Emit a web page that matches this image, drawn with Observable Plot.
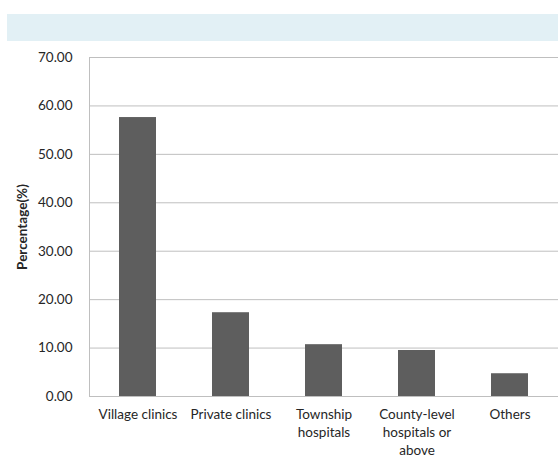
<!DOCTYPE html>
<html>
<head>
<meta charset="utf-8">
<script src="https://cdn.jsdelivr.net/npm/d3@7"></script>
<script src="https://cdn.jsdelivr.net/npm/@observablehq/plot@0.6"></script>
<style>
  body { margin: 0; background: #fff; }
  #wrap { position: relative; width: 558px; height: 468px; }
  #band { position: absolute; left: 7px; top: 14px; width: 551px; height: 27px; background: #e2f0f5; }
  #chart { position: absolute; left: 0; top: 0; }
  #chart svg g[aria-label="y-axis label"] text { font-weight: bold; }
</style>
</head>
<body>
<div id="wrap">
  <div id="band"></div>
  <div id="chart"></div>
</div>
<script>
const categories = ["Village clinics", "Private clinics", "Township\nhospitals", "County-level\nhospitals or\nabove", "Others"];
const percentages = [57.6, 17.3, 10.7, 9.5, 4.7];
const yTicks = [0, 10, 20, 30, 40, 50, 60, 70];

const data = categories.map((c, i) => ({category: c, value: percentages[i]}));

const chart = Plot.plot({
  width: 558,
  height: 468,
  marginTop: 57,
  marginBottom: 72,
  marginLeft: 89,
  marginRight: 0,
  style: {fontFamily: "Lato, 'Open Sans', sans-serif", fontSize: "13px", color: "#262626", background: "transparent"},
  x: {domain: categories, paddingInner: 0.6, paddingOuter: 0.3},
  y: {domain: [0, 70]},
  marks: [
    Plot.gridY(yTicks, {stroke: "#bfbfbf", strokeOpacity: 1}),
    Plot.barY(data, {x: "category", y: "value", fill: "#5e5e5e"}),
    Plot.ruleY([0], {stroke: "#bfbfbf"}),
    Plot.frame({anchor: "left", stroke: "#bfbfbf"}),
    Plot.axisY(yTicks, {tickSize: 0, tickPadding: 17, tickFormat: d3.format(".2f"), fontSize: 13.5,
      label: "Percentage(%)", labelAnchor: "center", labelArrow: "none", labelOffset: 72}),
    Plot.axisX({tickSize: 0, tickPadding: 10, fontSize: 13.5, lineHeight: 1.33, label: null})
  ]
});
document.getElementById("chart").appendChild(chart);
</script>
</body>
</html>
